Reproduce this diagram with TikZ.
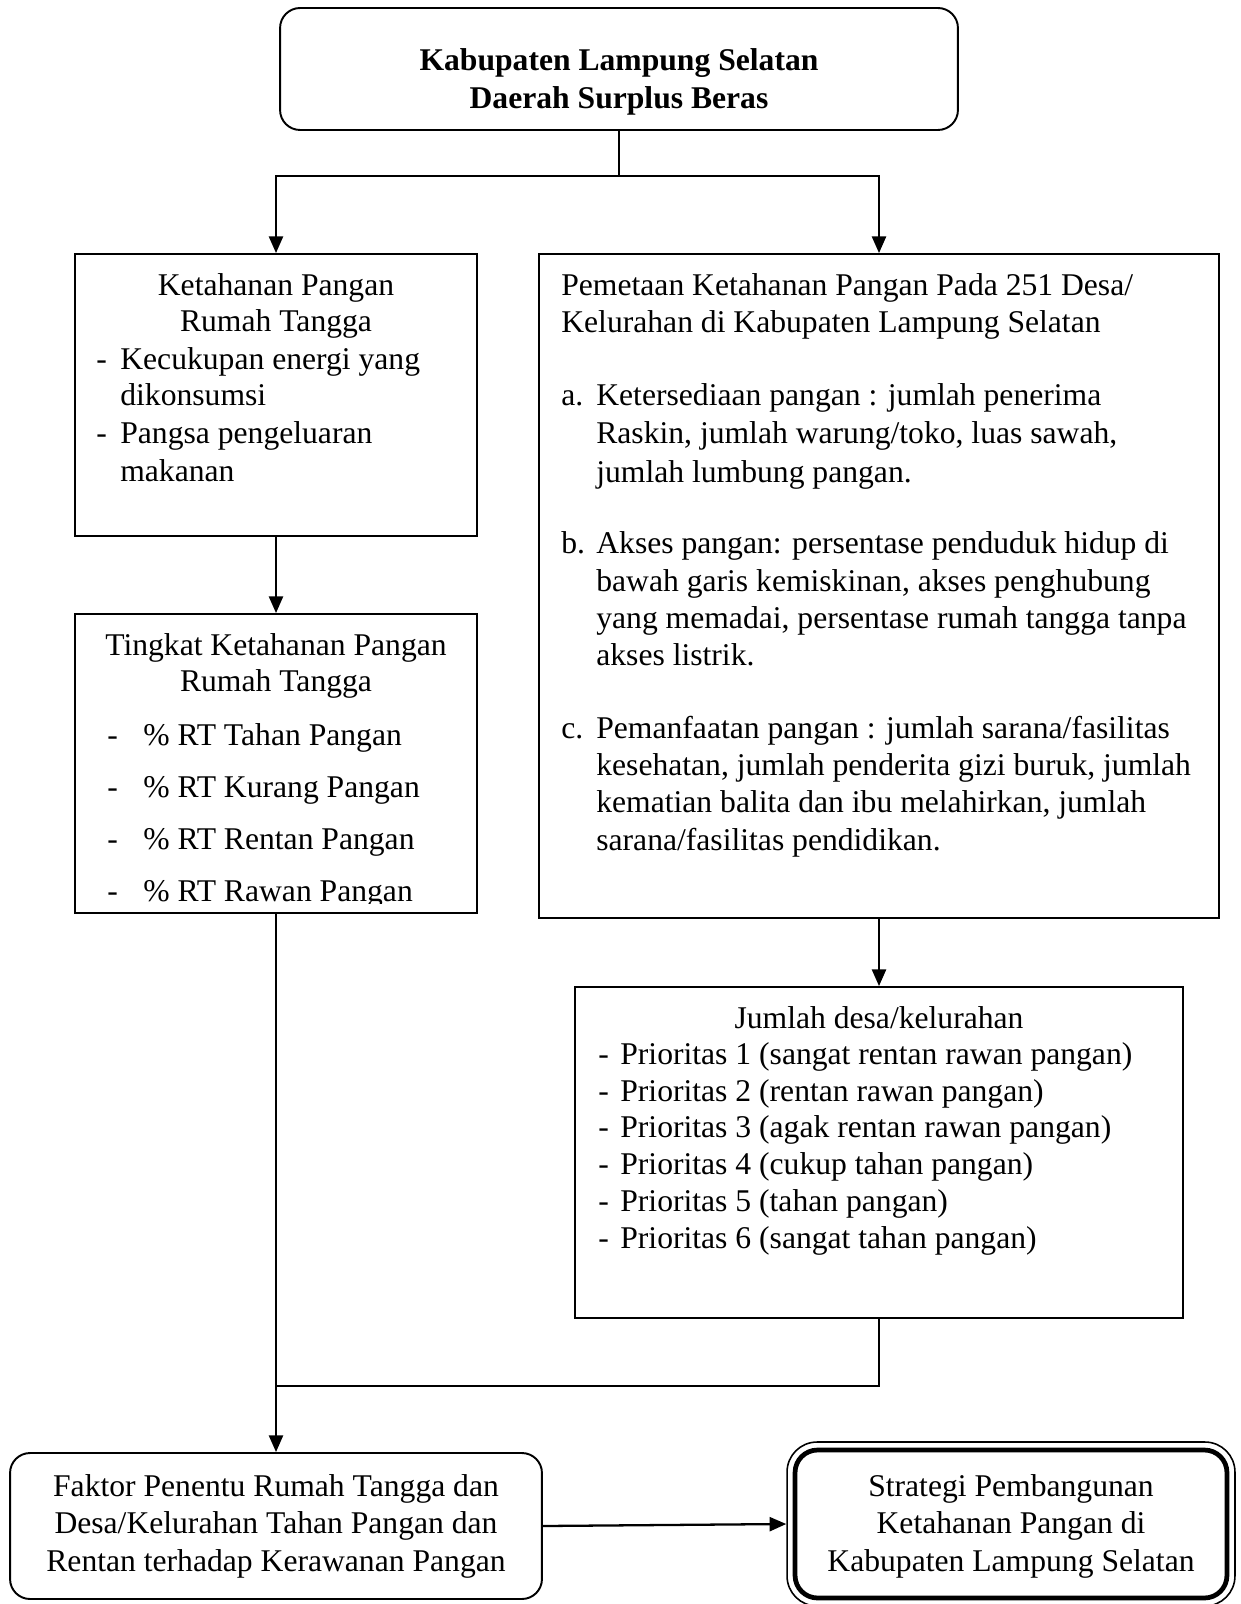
\documentclass[tikz,border=0pt]{standalone}
\usepackage{fontspec}
\setmainfont{Liberation Serif}
\usetikzlibrary{arrows.meta}
\tikzset{
  box/.style={draw,line width=1.1pt,inner sep=0pt},
  txt/.style={font=\fontsize{18}{21}\selectfont,inner sep=0pt},
  arr/.style={-{Triangle[length=9.5pt,width=8pt]},line width=1.3pt},
  ln/.style={line width=1.3pt}
}
\begin{document}
\begin{tikzpicture}[x=0.02cm,y=-0.02cm]
\useasboundingbox (0,0) rectangle (1240,1604);
% kotak
\node[box,rounded corners=0.4cm,minimum width=13.56cm,minimum height=2.44cm] (kab) at (619,69) {};
\node[box,minimum width=8.04cm,minimum height=5.64cm] (ket) at (276,395) {};
\node[box,minimum width=8.04cm,minimum height=5.98cm] (tingkat) at (276,763.5) {};
\node[box,minimum width=13.6cm,minimum height=13.28cm] (peta) at (879,586) {};
\node[box,minimum width=12.16cm,minimum height=6.62cm] (jumlah) at (879,1152.5) {};
\node[box,rounded corners=0.4cm,minimum width=10.64cm,minimum height=2.92cm] (faktor) at (276,1526) {};
\node[box,line width=0.9pt,rounded corners=0.6cm,minimum width=8.96cm,minimum height=3.28cm] (strategi) at (1011,1524) {};
\node[box,line width=2.7pt,rounded corners=0.45cm,minimum width=8.64cm,minimum height=2.96cm] (strategi2) at (1011,1524) {};
% garis
\coordinate (cab) at (619,176);
\coordinate (gab) at (276,1386);
\draw[ln] (kab.south) -- (cab);
\draw[arr] (cab) -| (ket.north);
\draw[arr] (cab) -| (peta.north);
\draw[arr] (ket.south) -- (tingkat.north);
\draw[arr] (peta.south) -- (jumlah.north);
\draw[ln] (jumlah.south) |- (gab);
\draw[arr] (tingkat.south) -- (faktor.north);
\draw[arr] (faktor.east) -- (strategi.west);
% teks
\node[txt,font=\fontsize{18}{21}\selectfont\bfseries,anchor=base] (kab1) at (619,71) {Kabupaten Lampung Selatan};
\node[txt,font=\fontsize{18}{21}\selectfont\bfseries,anchor=base] (kab2) at (619,109) {Daerah Surplus Beras};
\node[txt,anchor=base] (ket1) at (276,296) {Ketahanan Pangan};
\node[txt,anchor=base] (ket2) at (276,332) {Rumah Tangga};
\node[txt,anchor=base west] (ketd1) at (96,370) {-};
\node[txt,anchor=base west] (ket3) at (120,370) {Kecukupan energi yang};
\node[txt,anchor=base west] (ket4) at (120,406) {dikonsumsi};
\node[txt,anchor=base west] (ketd2) at (96,444) {-};
\node[txt,anchor=base west] (ket5) at (120,444) {Pangsa pengeluaran};
\node[txt,anchor=base west] (ket6) at (120,481) {makanan};
\begin{scope}
\clip (75,614) rectangle (477,903);
\node[txt,anchor=base] (ti1) at (276,655) {Tingkat Ketahanan Pangan};
\node[txt,anchor=base] (ti2) at (276,691) {Rumah Tangga};
\node[txt,anchor=base west] (tid1) at (107,745) {-};
\node[txt,anchor=base west] (ti3) at (143,745) {\% RT Tahan Pangan};
\node[txt,anchor=base west] (tid2) at (107,797) {-};
\node[txt,anchor=base west] (ti4) at (143,797) {\% RT Kurang Pangan};
\node[txt,anchor=base west] (tid3) at (107,849) {-};
\node[txt,anchor=base west] (ti5) at (143,849) {\% RT Rentan Pangan};
\node[txt,anchor=base west] (tid4) at (107,901) {-};
\node[txt,anchor=base west] (ti6) at (143,901) {\% RT Rawan Pangan};
\end{scope}
\node[txt,anchor=base west] (pe1) at (561,296) {Pemetaan Ketahanan Pangan Pada 251 Desa/};
\node[txt,anchor=base west] (pe2) at (561,333) {Kelurahan di Kabupaten Lampung Selatan};
\node[txt,anchor=base west] (pa) at (561,406) {a.};
\node[txt,anchor=base west] (pa1) at (596,406) {Ketersediaan pangan : jumlah penerima};
\node[txt,anchor=base west] (pa2) at (596,444) {Raskin, jumlah warung/toko, luas sawah,};
\node[txt,anchor=base west] (pa3) at (596,482) {jumlah lumbung pangan.};
\node[txt,anchor=base west] (pb) at (561,553) {b.};
\node[txt,anchor=base west] (pb1) at (596,553) {Akses pangan: persentase penduduk hidup di};
\node[txt,anchor=base west] (pb2) at (596,591) {bawah garis kemiskinan, akses penghubung};
\node[txt,anchor=base west] (pb3) at (596,628) {yang memadai, persentase rumah tangga tanpa};
\node[txt,anchor=base west] (pb4) at (596,665) {akses listrik.};
\node[txt,anchor=base west] (pc) at (561,738) {c.};
\node[txt,anchor=base west] (pc1) at (596,738) {Pemanfaatan pangan : jumlah sarana/fasilitas};
\node[txt,anchor=base west] (pc2) at (596,775) {kesehatan, jumlah penderita gizi buruk, jumlah};
\node[txt,anchor=base west] (pc3) at (596,812) {kematian balita dan ibu melahirkan, jumlah};
\node[txt,anchor=base west] (pc4) at (596,850) {sarana/fasilitas pendidikan.};
\node[txt,anchor=base] (ju) at (879,1028) {Jumlah desa/kelurahan};
\node[txt,anchor=base west] (jud1) at (598,1064) {-};
\node[txt,anchor=base west] (ju1) at (620,1064) {Prioritas 1 (sangat rentan rawan pangan)};
\node[txt,anchor=base west] (jud2) at (598,1101) {-};
\node[txt,anchor=base west] (ju2) at (620,1101) {Prioritas 2 (rentan rawan pangan)};
\node[txt,anchor=base west] (jud3) at (598,1137) {-};
\node[txt,anchor=base west] (ju3) at (620,1137) {Prioritas 3 (agak rentan rawan pangan)};
\node[txt,anchor=base west] (jud4) at (598,1174) {-};
\node[txt,anchor=base west] (ju4) at (620,1174) {Prioritas 4 (cukup tahan pangan)};
\node[txt,anchor=base west] (jud5) at (598,1211) {-};
\node[txt,anchor=base west] (ju5) at (620,1211) {Prioritas 5 (tahan pangan)};
\node[txt,anchor=base west] (jud6) at (598,1248) {-};
\node[txt,anchor=base west] (ju6) at (620,1248) {Prioritas 6 (sangat tahan pangan)};
\node[txt,anchor=base] (fa1) at (276,1496) {Faktor Penentu Rumah Tangga dan};
\node[txt,anchor=base] (fa2) at (276,1533) {Desa/Kelurahan Tahan Pangan dan};
\node[txt,anchor=base] (fa3) at (276,1571) {Rentan terhadap Kerawanan Pangan};
\node[txt,anchor=base] (st1) at (1011,1496) {Strategi Pembangunan};
\node[txt,anchor=base] (st2) at (1011,1533) {Ketahanan Pangan di};
\node[txt,anchor=base] (st3) at (1011,1571) {Kabupaten Lampung Selatan};
\end{tikzpicture}
\end{document}
